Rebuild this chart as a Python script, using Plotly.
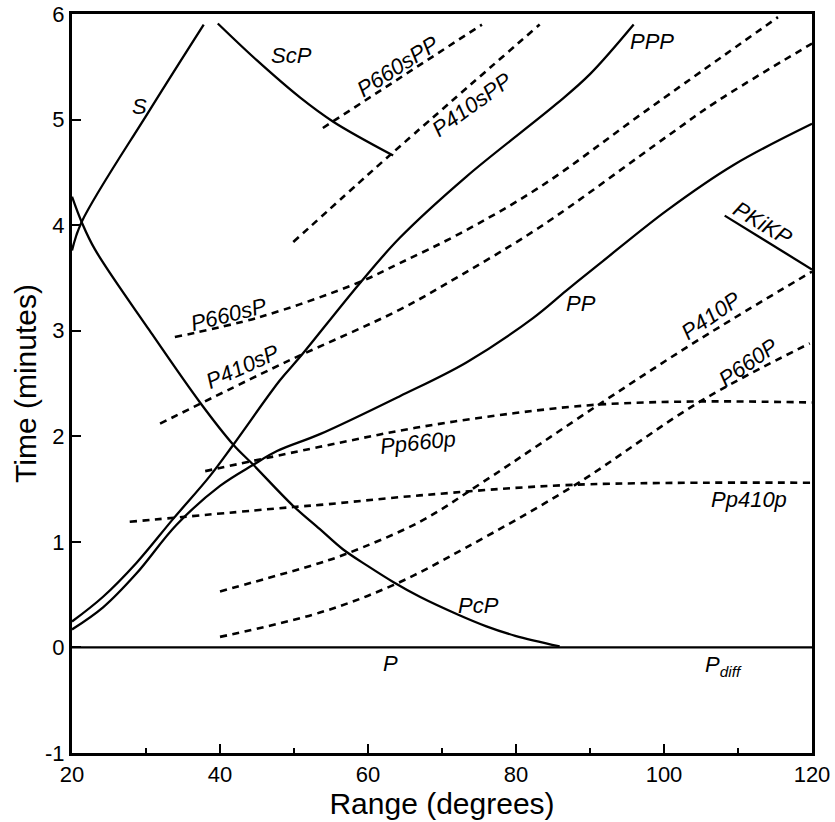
import plotly.graph_objects as go

# ---- data: range (degrees) and time (minutes) ----
S_range = [20, 21.3, 30.5, 37.8]
S_time = [3.76, 4.03, 5.09, 5.90]

ScP_range = [39.7, 45, 50.8, 55.3, 63.4]
ScP_time = [5.91, 5.56, 5.21, 4.98, 4.66]

PcP_range = [20, 21.3, 23.1, 30.5, 37.3, 41.8, 44.5, 49.9, 53.5, 56.6, 60, 63.4, 67, 72.2, 76, 79.9, 85.9]
PcP_time = [4.27, 4.03, 3.77, 3.00, 2.32, 1.92, 1.73, 1.34, 1.12, 0.93, 0.77, 0.62, 0.48, 0.31, 0.20, 0.11, 0.01]

PPP_range = [20, 24.2, 28.7, 33.7, 38.6, 41.8, 48.1, 50.8, 58.9, 64.3, 73.3, 85.5, 90.0, 95.9]
PPP_time = [0.245, 0.48, 0.80, 1.22, 1.62, 1.92, 2.53, 2.75, 3.45, 3.88, 4.46, 5.15, 5.43, 5.90]

PP_range = [20, 24.2, 28.7, 34.1, 40, 44.5, 47.7, 53.5, 64.3, 73.3, 82.3, 86.8, 91.4, 100.4, 109.4, 120]
PP_time = [0.17, 0.38, 0.70, 1.16, 1.53, 1.73, 1.86, 2.02, 2.38, 2.70, 3.12, 3.38, 3.64, 4.14, 4.57, 4.96]

PKiKP_range = [108.2, 120]
PKiKP_time = [4.09, 3.58]

P_range = [20, 120]
P_time = [0, 0]

P660sPP_range = [53.9, 75.4]
P660sPP_time = [4.92, 5.90]

P410sPP_range = [49.9, 58.6, 63.4, 83.2]
P410sPP_time = [3.84, 4.39, 4.69, 5.90]

P660sP_range = [33.9, 45.4, 58.5, 64.3, 72.4, 83.2, 97.7, 115.4]
P660sP_time = [2.94, 3.13, 3.45, 3.64, 3.92, 4.36, 5.09, 5.97]

P410sP_range = [31.9, 48.8, 64.3, 72.4, 83.2, 100.4, 107.1, 120]
P410sP_time = [2.12, 2.70, 3.20, 3.52, 3.98, 4.84, 5.17, 5.72]

Pp660p_range = [38, 53.5, 66.4, 79.9, 91.1, 104.9, 120]
Pp660p_time = [1.67, 1.90, 2.08, 2.22, 2.30, 2.33, 2.32]

Pp410p_range = [27.8, 49.9, 53.5, 67, 87.6, 120]
Pp410p_time = [1.19, 1.33, 1.35, 1.44, 1.54, 1.56]

P410P_range = [40, 53.5, 57.2, 67, 75.4, 91.4, 104.6, 120]
P410P_time = [0.53, 0.80, 0.89, 1.19, 1.56, 2.31, 2.91, 3.56]

P660P_range = [40, 53.5, 63.4, 73.1, 88, 104.9, 119.7]
P660P_time = [0.10, 0.33, 0.59, 0.94, 1.54, 2.33, 2.88]

x_ticks = [20, 40, 60, 80, 100, 120]
y_ticks = [-1, 0, 1, 2, 3, 4, 5, 6]
y_ticklabels = ["-1", "0", "1", "2", "3", "4", "5", "6"]

# phase labels: text, range, time, angle
labels = [
    ("S", 29.1, 5.12, 0),
    ("ScP", 49.7, 5.61, 0),
    ("P660sPP", 64.0, 5.50, -33),
    ("P410sPP", 74.1, 5.14, -36),
    ("PPP", 98.4, 5.74, 0),
    ("PKiKP", 113.4, 4.02, 31),
    ("P660sP", 41.2, 3.15, -14),
    ("P410sP", 43.1, 2.66, -24),
    ("PP", 88.8, 3.26, 0),
    ("P410P", 106.4, 3.14, -35),
    ("P660P", 111.4, 2.70, -35),
    ("Pp660p", 66.8, 1.94, -6),
    ("Pp410p", 111.5, 1.40, 0),
    ("PcP", 74.9, 0.40, 0),
    ("P", 63.1, -0.15, 0),
    ("P<sub>diff</sub>", 108.1, -0.18, 0),
]

FONT = "Liberation Sans, Arial, Helvetica, sans-serif"

solid = [
    (S_range, S_time), (ScP_range, ScP_time), (PcP_range, PcP_time),
    (PPP_range, PPP_time), (PP_range, PP_time), (PKiKP_range, PKiKP_time),
    (P_range, P_time),
]
solid_names = ["S", "ScP", "PcP", "PPP", "PP", "PKiKP", "P"]
dashed = [
    (P660sPP_range, P660sPP_time), (P410sPP_range, P410sPP_time),
    (P660sP_range, P660sP_time), (P410sP_range, P410sP_time),
    (Pp660p_range, Pp660p_time), (Pp410p_range, Pp410p_time),
    (P410P_range, P410P_time), (P660P_range, P660P_time),
]
dashed_names = ["P660sPP", "P410sPP", "P660sP", "P410sP", "Pp660p", "Pp410p", "P410P", "P660P"]

fig = go.Figure()
for (xs, ys), nm in zip(solid, solid_names):
    fig.add_trace(go.Scatter(x=xs, y=ys, mode="lines", name=nm,
                             line=dict(color="black", width=2.3, shape="spline", smoothing=1.0)))
for (xs, ys), nm in zip(dashed, dashed_names):
    fig.add_trace(go.Scatter(x=xs, y=ys, mode="lines", name=nm,
                             line=dict(color="black", width=2.6, dash="7px,5.5px",
                                       shape="spline", smoothing=1.0)))

for txt, lx, ly, ang in labels:
    fig.add_annotation(x=lx, y=ly, xref="x", yref="y", text="<i>" + txt + "</i>",
                       showarrow=False, textangle=ang,
                       font=dict(family=FONT, size=22, color="black"))

fig.update_layout(
    width=835, height=822,
    margin=dict(l=72, r=23, t=14, b=69),
    paper_bgcolor="white", plot_bgcolor="white",
    showlegend=False,
    font=dict(family=FONT, color="black"),
)
fig.update_xaxes(
    range=[20, 120], tickvals=x_ticks, ticks="inside", ticklen=9, tickwidth=2,
    tickcolor="black", tickfont=dict(size=22, family=FONT, color="black"),
    minor=dict(dtick=10, tick0=0, ticks="inside", ticklen=5, tickwidth=2, tickcolor="black", showgrid=False),
    showline=True, linewidth=3, linecolor="black", mirror=True,
    showgrid=False, zeroline=False, automargin=False,
    title=dict(text="Range (degrees)", font=dict(size=30, family=FONT, color="black"), standoff=2),
)
fig.update_yaxes(
    range=[-1, 6], tickvals=y_ticks, ticktext=y_ticklabels, ticks="inside", ticklen=9, tickwidth=2,
    tickcolor="black", tickfont=dict(size=22, family=FONT, color="black"),
    showline=True, linewidth=3, linecolor="black", mirror=True,
    showgrid=False, zeroline=False, automargin=False,
    title=dict(text="Time (minutes)", font=dict(size=30, family=FONT, color="black"), standoff=0),
)

fig.write_html("out.html")
